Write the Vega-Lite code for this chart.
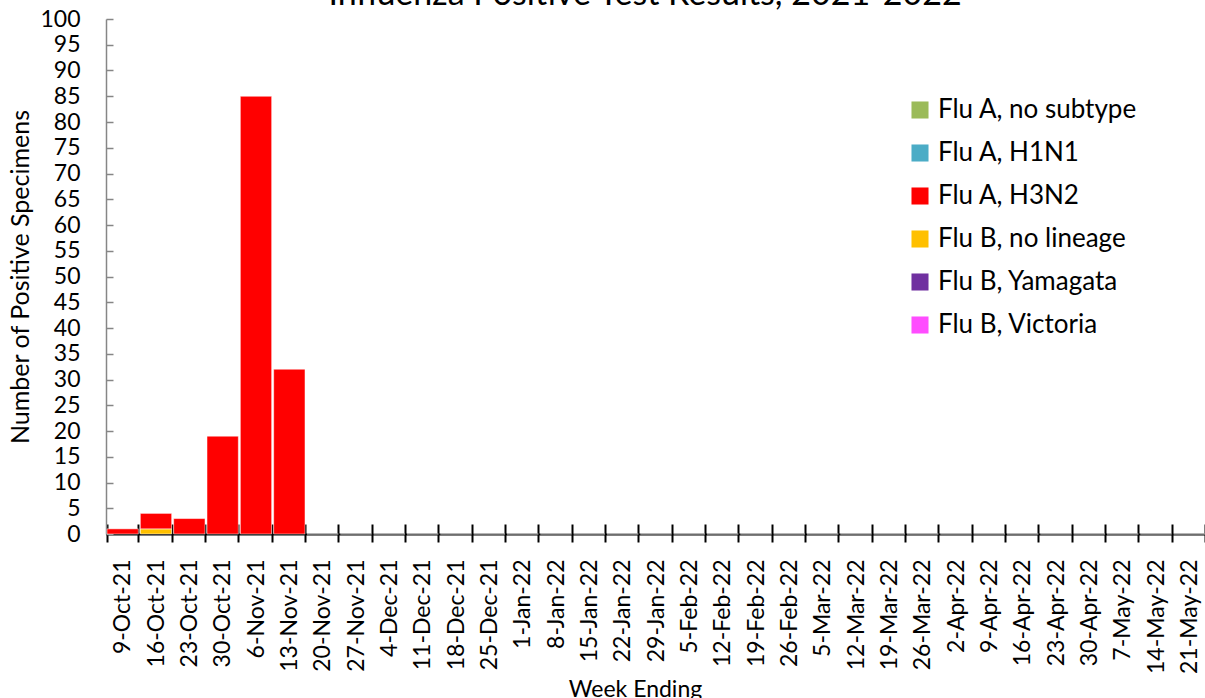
{
  "$schema": "https://vega.github.io/schema/vega-lite/v6.json",
  "autosize": "none",
  "padding": {"left": 106, "top": 19, "right": 0, "bottom": 164},
  "width": 1100,
  "height": 515,
  "background": "white",
  "config": {
    "view": {"stroke": null},
    "font": "Lato",
    "title": {"font": "Lato", "fontSize": 34, "fontWeight": "normal", "color": "black"}
  },
  "title": {"text": "Influenza Positive Test Results, 2021-2022", "offset": -31, "baseline": "alphabetic", "frame": "group", "dx": -11},
  "data": {
    "values": [
      {"week": "9-Oct-21", "series": "Flu A, H3N2", "count": 1},
      {"week": "16-Oct-21", "series": "Flu B, no lineage", "count": 1},
      {"week": "16-Oct-21", "series": "Flu A, H3N2", "count": 3},
      {"week": "23-Oct-21", "series": "Flu A, H3N2", "count": 3},
      {"week": "30-Oct-21", "series": "Flu A, H3N2", "count": 19},
      {"week": "6-Nov-21", "series": "Flu A, H3N2", "count": 85},
      {"week": "13-Nov-21", "series": "Flu A, H3N2", "count": 32},
      {"week": "20-Nov-21", "series": "Flu A, H3N2", "count": 0},
      {"week": "27-Nov-21", "series": "Flu A, H3N2", "count": 0},
      {"week": "4-Dec-21", "series": "Flu A, H3N2", "count": 0},
      {"week": "11-Dec-21", "series": "Flu A, H3N2", "count": 0},
      {"week": "18-Dec-21", "series": "Flu A, H3N2", "count": 0},
      {"week": "25-Dec-21", "series": "Flu A, H3N2", "count": 0},
      {"week": "1-Jan-22", "series": "Flu A, H3N2", "count": 0},
      {"week": "8-Jan-22", "series": "Flu A, H3N2", "count": 0},
      {"week": "15-Jan-22", "series": "Flu A, H3N2", "count": 0},
      {"week": "22-Jan-22", "series": "Flu A, H3N2", "count": 0},
      {"week": "29-Jan-22", "series": "Flu A, H3N2", "count": 0},
      {"week": "5-Feb-22", "series": "Flu A, H3N2", "count": 0},
      {"week": "12-Feb-22", "series": "Flu A, H3N2", "count": 0},
      {"week": "19-Feb-22", "series": "Flu A, H3N2", "count": 0},
      {"week": "26-Feb-22", "series": "Flu A, H3N2", "count": 0},
      {"week": "5-Mar-22", "series": "Flu A, H3N2", "count": 0},
      {"week": "12-Mar-22", "series": "Flu A, H3N2", "count": 0},
      {"week": "19-Mar-22", "series": "Flu A, H3N2", "count": 0},
      {"week": "26-Mar-22", "series": "Flu A, H3N2", "count": 0},
      {"week": "2-Apr-22", "series": "Flu A, H3N2", "count": 0},
      {"week": "9-Apr-22", "series": "Flu A, H3N2", "count": 0},
      {"week": "16-Apr-22", "series": "Flu A, H3N2", "count": 0},
      {"week": "23-Apr-22", "series": "Flu A, H3N2", "count": 0},
      {"week": "30-Apr-22", "series": "Flu A, H3N2", "count": 0},
      {"week": "7-May-22", "series": "Flu A, H3N2", "count": 0},
      {"week": "14-May-22", "series": "Flu A, H3N2", "count": 0},
      {"week": "21-May-22", "series": "Flu A, H3N2", "count": 0}
    ]
  },
  "layer": [
    {
      "mark": {"type": "bar", "stroke": "white", "strokeWidth": 0.5},
      "encoding": {
        "x": {
          "field": "week",
          "type": "nominal",
          "sort": null,
          "scale": {"paddingInner": 0.06, "paddingOuter": 0.03},
          "axis": {
            "orient": "bottom",
            "title": "Week Ending",
            "titleFont": "Lato",
            "titleFontSize": 23,
            "titleFontWeight": "normal",
            "titleColor": "black",
            "titleX": 529,
            "titleY": 155,
            "titleBaseline": "middle",
            "labelAngle": -90,
            "labelFont": "Lato",
            "labelFontSize": 23,
            "labelColor": "black",
            "labelPadding": 17,
            "labelAlign": "right",
            "labelBaseline": "middle",
            "labelLimit": 200,
            "domainColor": "black",
            "domainWidth": 2,
            "tickColor": "black",
            "tickWidth": 2,
            "tickSize": 8,
            "tickBand": "extent",
            "grid": false
          }
        },
        "y": {
          "field": "count",
          "type": "quantitative",
          "stack": "zero",
          "scale": {"domain": [0, 100], "nice": false},
          "axis": {
            "title": "Number of Positive Specimens",
            "titleFont": "Lato",
            "titleFontSize": 25,
            "titleFontWeight": "normal",
            "titleColor": "black",
            "titlePadding": 6,
            "values": [0,5,10,15,20,25,30,35,40,45,50,55,60,65,70,75,80,85,90,95,100],
            "labelFont": "Lato",
            "labelFontSize": 23,
            "labelColor": "black",
            "labelPadding": 33,
            "labelOverlap": false,
            "domainColor": "#868686",
            "domainWidth": 1.5,
            "tickColor": "#868686",
            "tickWidth": 1.5,
            "tickSize": -7,
            "grid": false
          }
        },
        "color": {
          "field": "series",
          "type": "nominal",
          "scale": {
            "domain": ["Flu A, no subtype", "Flu A, H1N1", "Flu A, H3N2", "Flu B, no lineage", "Flu B, Yamagata", "Flu B, Victoria"],
            "range": ["#9BBB59", "#4BACC6", "#FF0000", "#FFC000", "#7030A0", "#FF4DFF"]
          },
          "legend": {
            "title": null,
            "orient": "none",
            "legendX": 801,
            "legendY": 78,
            "symbolType": "square",
            "symbolSize": 290,
            "symbolStrokeWidth": 0,
            "labelFont": "Lato",
            "labelFontSize": 26,
            "labelColor": "black",
            "labelOffset": 5,
            "labelLimit": 300,
            "rowPadding": 17
          }
        },
        "order": {"field": "series", "sort": "descending"}
      }
    },
    {
      "mark": {"type": "tick", "opacity": 0},
      "encoding": {
        "x": {
          "field": "week",
          "type": "nominal",
          "sort": null,
          "axis": {
            "orient": "bottom",
            "title": null,
            "labels": false,
            "domain": false,
            "tickColor": "black",
            "tickWidth": 2,
            "tickSize": -10,
            "tickBand": "extent",
            "grid": false
          }
        }
      }
    }
  ],
  "resolve": {"axis": {"x": "independent"}}
}
